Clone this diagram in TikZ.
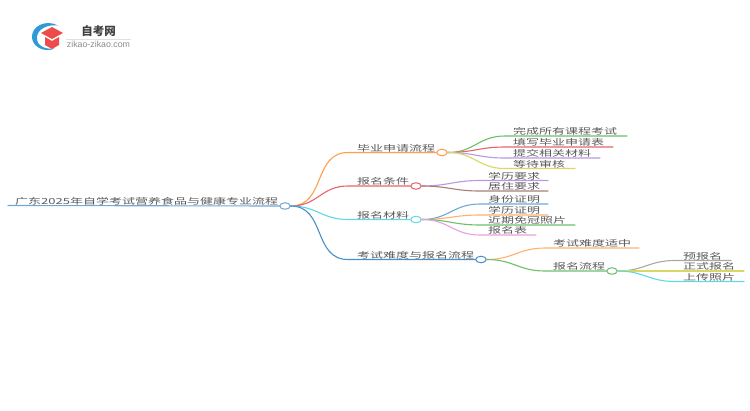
\documentclass[tikz,border=0pt]{standalone}
\usepackage{graphicx}
\usepackage{fontspec}
\setmainfont{Noto Sans CJK SC}
\newfontfamily\latinf{Liberation Sans}
\usetikzlibrary{shapes.geometric}
\definecolor{txt}{HTML}{5A5A5A}
\definecolor{cOr}{HTML}{FF9F4A}
\definecolor{cRe}{HTML}{E8636B}
\definecolor{cCy}{HTML}{62D8E6}
\definecolor{cBl}{HTML}{4A90C8}
\definecolor{cGr}{HTML}{6CC06C}
\definecolor{cPu}{HTML}{B79ADF}
\definecolor{cYe}{HTML}{D9D860}
\definecolor{cBr}{HTML}{A87F78}
\definecolor{cLb}{HTML}{70A8D8}
\definecolor{cLo}{HTML}{FFB070}
\definecolor{cPi}{HTML}{E8A0DE}
\definecolor{cGy}{HTML}{A8A8A8}
\definecolor{cLogo}{HTML}{2E9BD6}
\definecolor{cCap}{HTML}{EE4B4B}
\newcommand{\sq}[1]{\scalebox{1}[0.64]{#1}}
\tikzset{
  lab/.style={anchor=base west,inner sep=0pt,text=txt,font=\fontsize{13pt}{13pt}\selectfont},
  dot/.style={ellipse,draw,fill=white,line width=1pt,minimum width=10.5pt,minimum height=6.5pt,inner sep=0pt},
  conn/.style={line width=1.1pt,line cap=round},
  curve/.style={out=0,in=180,looseness=1.15}
}
\begin{document}
\begin{tikzpicture}[x=1pt,y=-1pt]
\useasboundingbox (0,0) rectangle (750,410);
\fill[white] (0,0) rectangle (750,410);
% logo
\fill[cLogo] (58,25.5) .. controls (46,19) and (31,26) .. (32,38) .. controls (33,47) and (44,53) .. (55,48.5) .. controls (46,50) and (36,46) .. (37,37) .. controls (37.5,29) and (48,24) .. (58,25.5) -- cycle;
\fill[cCap] (52,27) -- (63,33) -- (52,39) -- (41,33) -- cycle;
\fill[cCap] (45,37) -- (52,41) -- (59,37) -- (59,45) -- (52,49) -- (45,45) -- cycle;
\node[anchor=center,inner sep=0pt,text=black!75,font=\fontsize{11.5pt}{11.5pt}\selectfont\bfseries] (brand) at (98.5,31) {自考网};
\node[anchor=center,inner sep=0pt,text=black!45,font=\latinf\fontsize{8.8pt}{8.8pt}\selectfont] (site) at (98.5,44.5) {zikao-zikao.com};
\coordinate (ruleL) at (66,39); \coordinate (ruleR) at (131,39);
\draw[black!12,line width=0.6pt] (ruleL) -- (ruleR);

% root and branch points
\coordinate (rootL) at (8,205.5);
\node[dot,draw=cLb] (root) at (285,206) {};
\node[dot,draw=cOr] (b1) at (442,152.5) {};
\node[dot,draw=cRe] (b2) at (416,186) {};
\node[dot,draw=cCy] (b3) at (416,219.5) {};
\node[dot,draw=cBl] (b4) at (481,259.5) {};
\node[dot,draw=cGr] (b5) at (612,271) {};

% curve ends
\coordinate (k1) at (348,152.5); \coordinate (k2) at (348,186);
\coordinate (k3) at (348,219.5); \coordinate (k4) at (348,259.5);
\coordinate (a1) at (505,136); \coordinate (a1e) at (627,136);
\coordinate (a2) at (505,147); \coordinate (a2e) at (613,147);
\coordinate (a3) at (505,158); \coordinate (a3e) at (600,158);
\coordinate (a4) at (505,168.5); \coordinate (a4e) at (575,168.5);
\coordinate (c1) at (480,180.5); \coordinate (c1e) at (548,180.5);
\coordinate (c2) at (480,191); \coordinate (c2e) at (548,191);
\coordinate (d1) at (480,204); \coordinate (d1e) at (548,204);
\coordinate (d2) at (480,215); \coordinate (d2e) at (548,215);
\coordinate (d3) at (480,225); \coordinate (d3e) at (575,225);
\coordinate (d4) at (480,235); \coordinate (d4e) at (536,235);
\coordinate (e1) at (545,248); \coordinate (e1e) at (639,248);
\coordinate (e2) at (545,271); 
\coordinate (f1) at (675,260.5); \coordinate (f1e) at (731,260.5);
\coordinate (f2) at (675,271); \coordinate (f2e) at (744,271);
\coordinate (f3) at (675,281.5); \coordinate (f3e) at (744,281.5);

% connectors
\begin{scope}[conn]
\draw[cLb] (rootL) -- (root.west);
\draw[cOr] (root.east) to[curve] (k1) -- (b1.west);
\draw[cRe] (root.east) to[curve] (k2) -- (b2.west);
\draw[cCy] (root.east) to[curve] (k3) -- (b3.west);
\draw[cBl] (root.east) to[curve] (k4) -- (b4.west);
\draw[cGr] (b1.east) to[curve] (a1) -- (a1e);
\draw[cRe] (b1.east) to[curve] (a2) -- (a2e);
\draw[cPu] (b1.east) to[curve] (a3) -- (a3e);
\draw[cYe] (b1.east) to[curve] (a4) -- (a4e);
\draw[cPu] (b2.east) to[curve] (c1) -- (c1e);
\draw[cBr] (b2.east) to[curve] (c2) -- (c2e);
\draw[cLb] (b3.east) to[curve] (d1) -- (d1e);
\draw[cLo] (b3.east) to[curve] (d2) -- (d2e);
\draw[cGr] (b3.east) to[curve] (d3) -- (d3e);
\draw[cPi] (b3.east) to[curve] (d4) -- (d4e);
\draw[cLo] (b4.east) to[curve] (e1) -- (e1e);
\draw[cGr] (b4.east) to[curve] (e2) -- (b5.west);
\draw[cGy] (b5.east) to[curve] (f1) -- (f1e);
\draw[cYe] (b5.east) to[curve] (f2) -- (f2e);
\draw[cCy] (b5.east) to[curve] (f3) -- (f3e);
\end{scope}

% labels
\node[lab] (troot) at (15,204) {\sq{广东2025年自学考试营养食品与健康专业流程}};
\node[lab] (t1) at (357,151) {\sq{毕业申请流程}};
\node[lab] (t2) at (357,184.5) {\sq{报名条件}};
\node[lab] (t3) at (357,218) {\sq{报名材料}};
\node[lab] (t4) at (357,258) {\sq{考试难度与报名流程}};
\node[lab] (ta1) at (513,134.5) {\sq{完成所有课程考试}};
\node[lab] (ta2) at (513,145.5) {\sq{填写毕业申请表}};
\node[lab] (ta3) at (513,156.5) {\sq{提交相关材料}};
\node[lab] (ta4) at (513,167) {\sq{等待审核}};
\node[lab] (tc1) at (488,179) {\sq{学历要求}};
\node[lab] (tc2) at (488,189.5) {\sq{居住要求}};
\node[lab] (td1) at (488,202.5) {\sq{身份证明}};
\node[lab] (td2) at (488,213.5) {\sq{学历证明}};
\node[lab] (td3) at (488,223.5) {\sq{近期免冠照片}};
\node[lab] (td4) at (488,233.5) {\sq{报名表}};
\node[lab] (te1) at (553,246.5) {\sq{考试难度适中}};
\node[lab] (te2) at (553,269.5) {\sq{报名流程}};
\node[lab] (tf1) at (683,259) {\sq{预报名}};
\node[lab] (tf2) at (683,269.5) {\sq{正式报名}};
\node[lab] (tf3) at (683,280) {\sq{上传照片}};
\end{tikzpicture}
\end{document}
